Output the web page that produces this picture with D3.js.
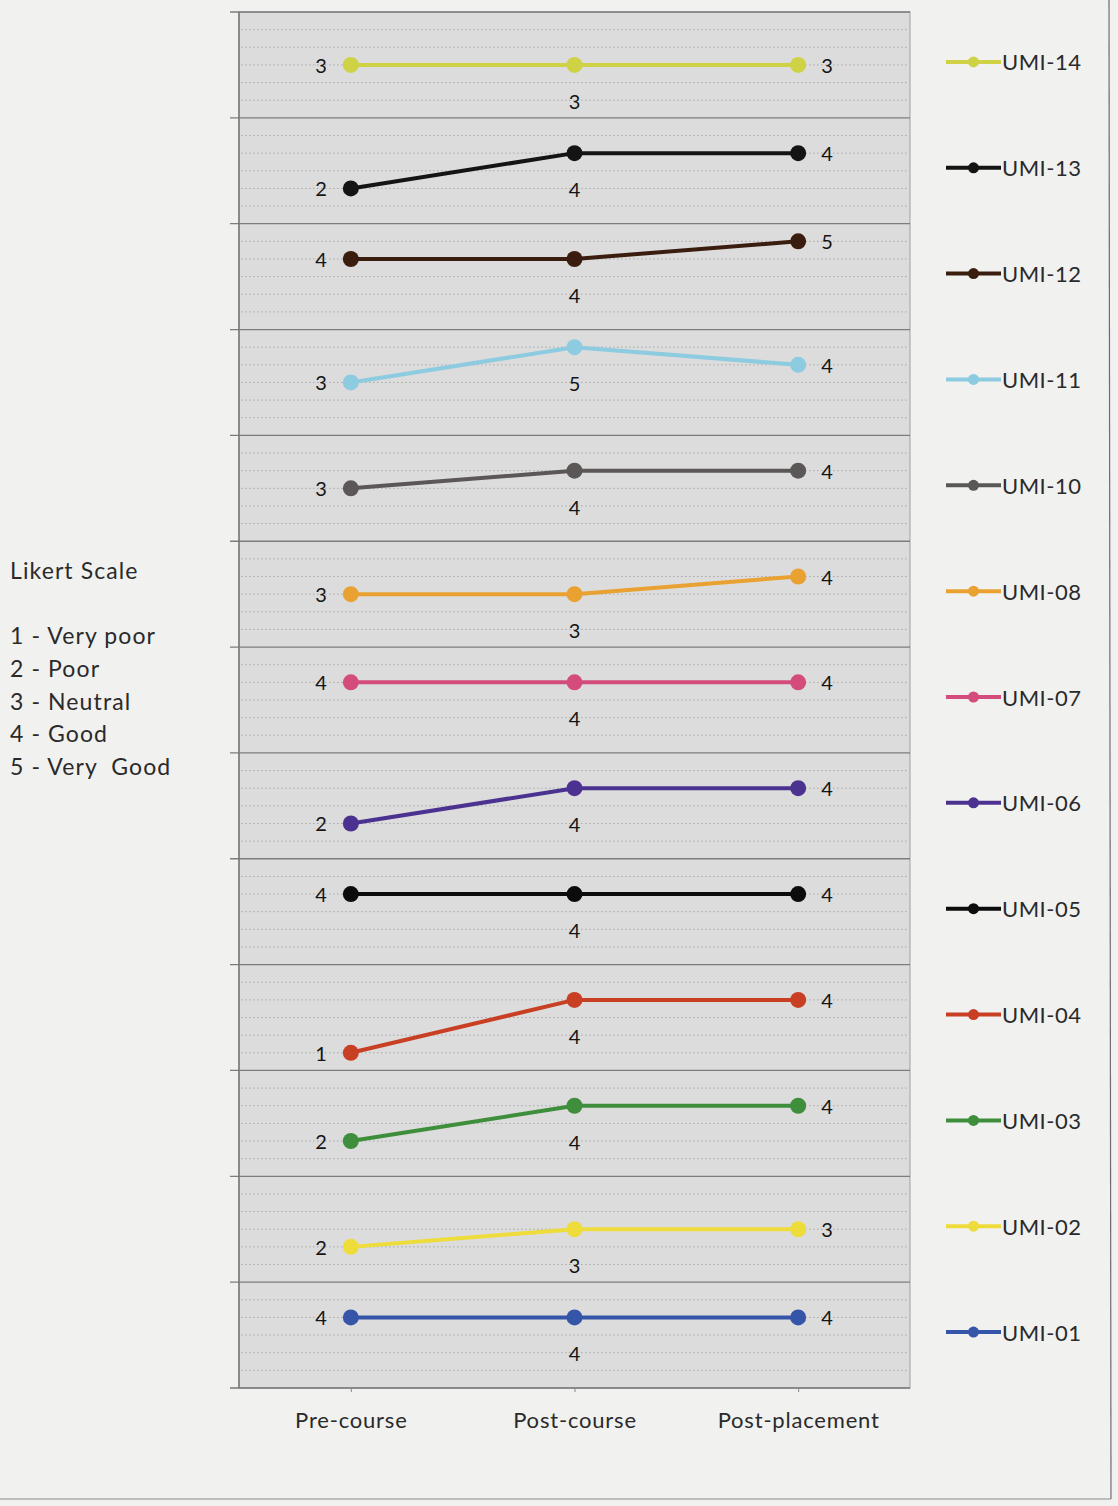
<!DOCTYPE html>
<html>
<head>
<meta charset="utf-8">
<script src="https://cdn.jsdelivr.net/npm/d3@7"></script>
<style>
  html, body { margin: 0; padding: 0; background: #f1f1f0; }
  svg { display: block; font-family: "Lato", "Open Sans", sans-serif; }
</style>
</head>
<body>
<svg id="chart" width="1118" height="1506"></svg>
<script>
// Survey stages (x categories)
const stages = ["Pre-course", "Post-course", "Post-placement"];

// Items, listed top to bottom as stacked panels
const items = ["UMI-14", "UMI-13", "UMI-12", "UMI-11", "UMI-10", "UMI-08", "UMI-07",
               "UMI-06", "UMI-05", "UMI-04", "UMI-03", "UMI-02", "UMI-01"];

// Likert score per item at each stage
const umi14 = [3, 3, 3];
const umi13 = [2, 4, 4];
const umi12 = [4, 4, 5];
const umi11 = [3, 5, 4];
const umi10 = [3, 4, 4];
const umi08 = [3, 3, 4];
const umi07 = [4, 4, 4];
const umi06 = [2, 4, 4];
const umi05 = [4, 4, 4];
const umi04 = [1, 4, 4];
const umi03 = [2, 4, 4];
const umi02 = [2, 3, 3];
const umi01 = [4, 4, 4];

const itemColors = ["#cfd245", "#141414", "#3b1d0f", "#8ccbe0", "#5b5757", "#e9a232", "#d44c7c",
                    "#4b3291", "#0c0c0c", "#c93f24", "#3f8e3b", "#eedc3a", "#3555a8"];

// Likert scale key
const scaleTitle = "Likert Scale";
const scaleKey = ["1 - Very poor", "2 - Poor", "3 - Neutral", "4 - Good", "5 - Very  Good"];

const scores = [umi14, umi13, umi12, umi11, umi10, umi08, umi07, umi06, umi05, umi04, umi03, umi02, umi01];
const series = items.map((name, i) => ({ name, values: scores[i], color: itemColors[i] }));

const svg = d3.select("#chart");
const plot = { left: 239, right: 910, top: 12, bottom: 1388 };

const x = d3.scalePoint().domain(stages).range([plot.left, plot.right]).padding(0.5);
const band = d3.scaleBand().domain(items).range([plot.top, plot.bottom]).paddingInner(0);

// Plot background
svg.append("rect")
  .attr("x", plot.left).attr("y", plot.top)
  .attr("width", plot.right - plot.left).attr("height", plot.bottom - plot.top)
  .attr("fill", "#dcdcdc").attr("stroke", "#a0a0a0").attr("stroke-width", 1);

// Outer frame edges
svg.append("line").attr("x1", 1109).attr("x2", 1111).attr("y1", 0).attr("y2", 1499)
  .attr("stroke", "#6e6e6e").attr("stroke-width", 1.2);
svg.append("line").attr("x1", 0).attr("x2", 1111).attr("y1", 1499).attr("y2", 1499)
  .attr("stroke", "#8a8a8a").attr("stroke-width", 1);

const panels = svg.selectAll("g.panel").data(series).join("g").attr("class", "panel");

panels.each(function(d) {
  const g = d3.select(this);
  const top = band(d.name), h = band.bandwidth();
  const y = d3.scaleLinear().domain([0, 6]).range([top + h, top]);
  d.y = y;

  // Dotted gridlines at each Likert level
  g.selectAll("line.grid").data([1, 2, 3, 4, 5]).join("line")
    .attr("x1", plot.left + 2).attr("x2", plot.right - 2)
    .attr("y1", v => y(v)).attr("y2", v => y(v))
    .attr("stroke", "#a9a9a9").attr("stroke-width", 1)
    .attr("stroke-dasharray", "1.5,2.5");
});

// Panel separators, extending left as tick marks
svg.selectAll("line.sep").data(items.slice(1)).join("line")
  .attr("class", "sep")
  .attr("x1", plot.left - 9).attr("x2", plot.right)
  .attr("y1", d => band(d)).attr("y2", d => band(d))
  .attr("stroke", "#7c7c7c").attr("stroke-width", 1.3);
svg.append("line").attr("x1", plot.left - 9).attr("x2", plot.right)
  .attr("y1", plot.top).attr("y2", plot.top).attr("stroke", "#7c7c7c").attr("stroke-width", 1.3);

// Left axis line and bottom axis line
svg.append("line").attr("x1", plot.left).attr("x2", plot.left)
  .attr("y1", plot.top).attr("y2", plot.bottom).attr("stroke", "#777").attr("stroke-width", 1.5);
svg.append("line").attr("x1", plot.left - 9).attr("x2", plot.right)
  .attr("y1", plot.bottom).attr("y2", plot.bottom).attr("stroke", "#777").attr("stroke-width", 1.5);

// Category axis
const xAxis = svg.append("g").attr("transform", `translate(0,${plot.bottom})`)
  .call(d3.axisBottom(x).tickSize(4).tickPadding(20));
xAxis.select(".domain").remove();
xAxis.selectAll(".tick line").attr("stroke", "#888");
xAxis.selectAll(".tick text")
  .attr("font-family", "Lato, 'Open Sans', sans-serif")
  .attr("font-size", 22).attr("letter-spacing", 0.8).attr("fill", "#2a2a2a");

// Lines, markers and value labels
const line = d3.line();
panels.each(function(d) {
  const g = d3.select(this);
  const pts = d.values.map((v, i) => [x(stages[i]), d.y(v)]);
  g.append("path").attr("d", line(pts))
    .attr("fill", "none").attr("stroke", d.color).attr("stroke-width", 4)
    .attr("stroke-linejoin", "round");
  g.selectAll("circle").data(pts).join("circle")
    .attr("cx", p => p[0]).attr("cy", p => p[1]).attr("r", 8)
    .attr("fill", d.color);
  g.selectAll("text.val").data(d.values).join("text")
    .attr("class", "val")
    .attr("x", (v, i) => i === 0 ? pts[i][0] - 24 : i === 1 ? pts[i][0] : pts[i][0] + 23)
    .attr("y", (v, i) => i === 1 ? pts[i][1] + 36 : pts[i][1])
    .attr("text-anchor", (v, i) => i === 0 ? "end" : i === 1 ? "middle" : "start")
    .attr("dominant-baseline", "central")
    .attr("font-size", 20).attr("fill", "#151515")
    .text(v => v);
});

// Legend, one entry aligned with each panel
const legend = svg.selectAll("g.legend").data(series).join("g")
  .attr("class", "legend")
  .attr("transform", d => `translate(946,${band(d.name) + band.bandwidth() / 2 - 3})`);
legend.append("line").attr("x1", 0).attr("x2", 55).attr("y1", 0).attr("y2", 0)
  .attr("stroke", d => d.color).attr("stroke-width", 4);
legend.append("circle").attr("cx", 27.5).attr("cy", 0).attr("r", 5.5).attr("fill", d => d.color);
legend.append("text").attr("x", 56).attr("y", 0).attr("dominant-baseline", "central")
  .attr("font-size", 22).attr("letter-spacing", 0.5).attr("fill", "#2a2a2a").text(d => d.name);

// Likert scale key on the left
svg.append("text").attr("x", 10).attr("y", 570).attr("dominant-baseline", "central")
  .attr("font-size", 23).attr("letter-spacing", 1.1).attr("fill", "#2a2a2a").text(scaleTitle);
svg.selectAll("text.key").data(scaleKey).join("text").attr("class", "key")
  .attr("x", 10).attr("y", (d, i) => 635 + i * 32.8).attr("dominant-baseline", "central")
  .attr("font-size", 23).attr("letter-spacing", 1.1).attr("fill", "#2a2a2a")
  .style("white-space", "pre").text(d => d);
</script>
</body>
</html>
